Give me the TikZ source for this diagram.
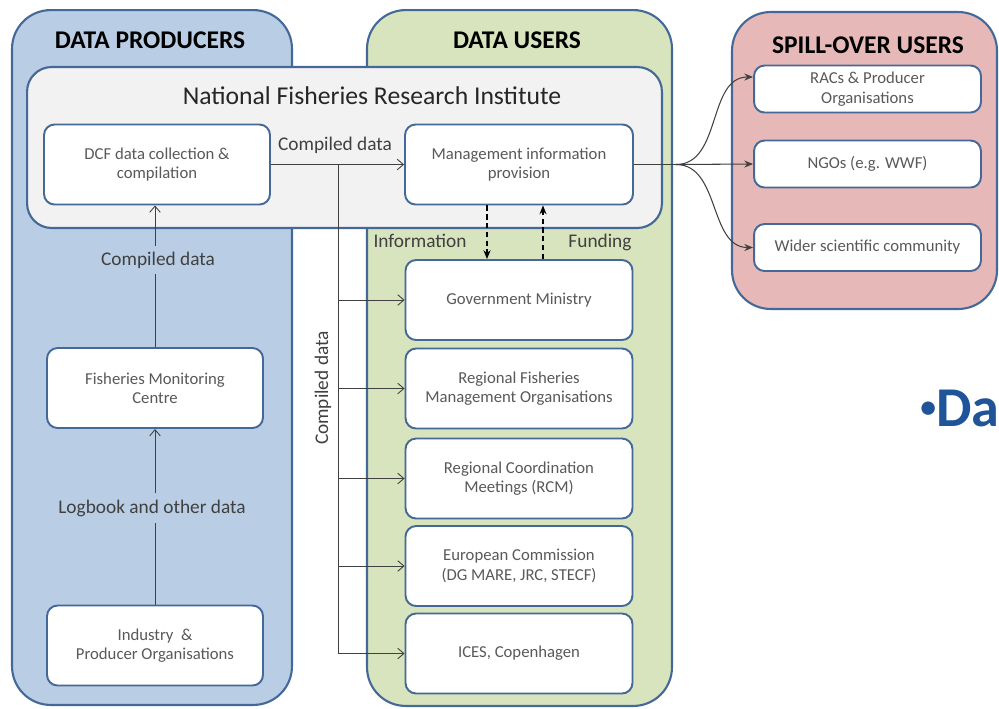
\documentclass[tikz,border=0pt]{standalone}
\usepackage{fontspec}
\setmainfont{Carlito}
\usetikzlibrary{arrows.meta}

\definecolor{prodblue}{RGB}{185,205,229}
\definecolor{usergreen}{RGB}{215,228,189}
\definecolor{spillred}{RGB}{230,185,184}
\definecolor{frameblue}{RGB}{68,104,152}
\definecolor{instgrey}{RGB}{242,242,242}
\definecolor{textgrey}{RGB}{89,89,89}
\definecolor{linegrey}{RGB}{64,64,64}
\definecolor{titleblue}{RGB}{31,84,152}

\begin{document}
\begin{tikzpicture}[x=0.02cm,y=-0.02cm,
	panel/.style={draw=frameblue,line width=1.2pt,rounded corners=22pt},
	box/.style={draw=frameblue,line width=1.1pt,fill=white,rounded corners=6pt,minimum width=4.54cm,minimum height=1.6cm,align=center,text=textgrey,font=\fontsize{9.5}{11}\selectfont},
	head/.style={font=\fontsize{14.5}{16}\selectfont\bfseries},
	lbl/.style={text=linegrey,font=\fontsize{11}{13}\selectfont},
	flow/.style={-{Straight Barb[length=3.5pt,width=6pt]},draw=linegrey,line width=0.5pt},
	link/.style={-{Stealth[length=5pt,width=4pt]},densely dashed,line width=0.8pt},
	spill/.style={-{Stealth[length=5pt,width=4pt]},draw=linegrey,line width=0.6pt}]
			\useasboundingbox (0,0) rectangle (999,708);
			% the three user groups
			\node[panel,fill=prodblue,minimum width=5.6cm,minimum height=13.9cm] (prod) at (152,357.5){};
			\node[panel,fill=usergreen,minimum width=6.1cm,minimum height=13.92cm] (users) at (519.5,358){};
			\node[panel,fill=spillred,minimum width=5.3cm,minimum height=5.94cm] (spillover) at (864.5,160.5){};
			\node[head] (prodhead) at (150,40){DATA PRODUCERS};
			\node[head] (usershead) at (517,40){DATA USERS};
			\node[head] (spillhead) at (868,45){SPILL-OVER USERS};
			% institute spanning producers and users
			\node[panel,fill=instgrey,rounded corners=14pt,minimum width=12.7cm,minimum height=3.22cm] (nfri) at (344.5,147.5){};
			\node[text=black!85,font=\fontsize{14.6}{16}\selectfont] (nfrititle) at (372,96){National Fisheries Research Institute};
			\node[box,minimum width=4.52cm] (dcf) at (157,164.5){DCF data collection \&\\compilation};
			\node[box,minimum width=4.56cm] (mip) at (519,164.5){Management information\\provision};
			% data users
			\node[box] (gov) at (519,300){Government Ministry};
			\node[box] (rfmo) at (519,388.5){Regional Fisheries\\Management Organisations};
			\node[box] (rcm) at (519,478.5){Regional Coordination\\Meetings (RCM)};
			\node[box] (ec) at (519,566){European Commission\\(DG MARE, JRC, STECF)};
			\node[box] (ices) at (519,653.5){ICES, Copenhagen};
			% data producers
			\node[box,minimum width=4.32cm] (fmc) at (155,388){Fisheries Monitoring\\Centre};
			\node[box,minimum width=4.32cm] (ind) at (155,645.5){Industry \ \&\\Producer Organisations};
			% spill-over users
			\node[box,minimum height=0.94cm] (rac) at (867.5,89){RACs \& Producer\\Organisations};
			\node[box,minimum height=0.94cm] (ngo) at (867.5,164){NGOs (e.g. WWF)};
			\node[box,minimum height=0.94cm] (wider) at (867.5,247.5){Wider scientific community};
			% labels
			\node[lbl] (logb) at (152,508){Logbook and other data};
			\node[lbl] (cdfmc) at (158,260){Compiled data};
			\node[lbl] (cddcf) at (335,145){Compiled data};
			\node[lbl,rotate=90] (cdusers) at (323,388){Compiled data};
			\node[lbl] (info) at (420,241){Information};
			\node[lbl] (fund) at (600,242){Funding};
			\node[anchor=west,inner sep=0pt,text=titleblue,font=\fontsize{32}{36}\selectfont\bfseries] (dapart) at (920,408){{\fontsize{18}{18}\selectfont\raisebox{0.28em}{•}}Da};
			% producer chain
			\draw[linegrey,line width=0.5pt] (ind.north) -- (ind.north |- logb.south);
			\draw[flow] (logb.north -| fmc.south) -- (fmc.south);
			\draw[linegrey,line width=0.5pt] (fmc.north) -- (fmc.north |- cdfmc.south);
			\draw[flow] (cdfmc.north -| fmc.north) -- (fmc.north |- dcf.south);
			% compiled data to the users
			\draw[flow] (dcf.east) -- (mip.west);
			\coordinate (split) at (338,164.5);
			\draw[linegrey,line width=0.5pt] (split) -- (split |- ices.west);
			\foreach \n in {gov,rfmo,rcm,ec,ices}
				\draw[flow] (split |- \n.west) -- (\n.west);
			% information and funding
			\draw[link] ([xshift=-0.64cm]mip.south) -- ([xshift=-0.64cm]gov.north);
			\draw[link] ([xshift=0.48cm]gov.north) -- ([xshift=0.48cm]mip.south);
			% spill-over
			\coordinate (fork) at (676,164.5);
			\draw[linegrey,line width=0.6pt] (mip.east) -- (fork);
			\draw[spill] (fork) -- (ngo.west);
			\draw[spill] (fork) to[out=0,in=180] ([yshift=0.24cm]rac.west);
			\draw[spill] (fork) to[out=0,in=180] (wider.west);
		\end{tikzpicture}
\end{document}
